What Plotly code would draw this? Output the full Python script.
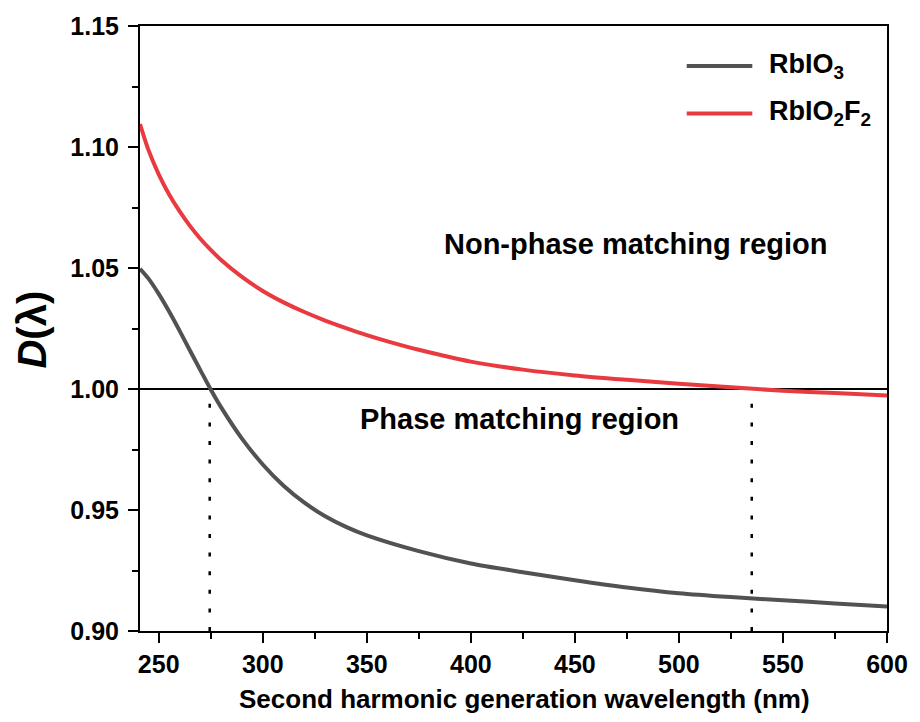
import plotly.graph_objects as go

# Data
wl_rbio3 = [241, 245, 250, 255, 260, 265, 270, 275, 280, 290, 300, 310, 320, 330,
            340, 350, 375, 400, 425, 450, 475, 500, 525, 550, 575, 600]
d_rbio3 = [1.0497, 1.0457, 1.0393, 1.0320, 1.0241, 1.0159, 1.0078, 0.9998, 0.9924,
           0.9795, 0.9688, 0.9600, 0.9530, 0.9474, 0.9430, 0.9395, 0.9330, 0.9279,
           0.9243, 0.9210, 0.9180, 0.9156, 0.9140, 0.9127, 0.9114, 0.9101]

wl_rbio2f2 = [241, 245, 250, 255, 260, 265, 270, 275, 280, 290, 300, 310, 320, 330,
              340, 350, 360, 375, 400, 425, 450, 475, 500, 525, 550, 575, 600]
d_rbio2f2 = [1.1095, 1.0989, 1.0887, 1.0804, 1.0735, 1.0674, 1.0621, 1.0575, 1.0533,
             1.0463, 1.0405, 1.0358, 1.0318, 1.0283, 1.0252, 1.0223, 1.0197, 1.0162,
             1.0113, 1.0080, 1.0056, 1.0038, 1.0022, 1.0007, 0.9993, 0.9983, 0.9973]

cutoff_wl = [274.5, 535]
ref_level = 1.00
x_ticks = [250, 300, 350, 400, 450, 500, 550, 600]
y_ticks = [0.90, 0.95, 1.00, 1.05, 1.10, 1.15]

FONT = "Liberation Sans, Arial, sans-serif"
BLACK_CURVE = "#525252"
RED_CURVE = "#e93a40"

fig = go.Figure()

# reference line D = 1
fig.add_trace(go.Scatter(x=[241, 600], y=[ref_level, ref_level], mode="lines",
                         line=dict(color="black", width=2), showlegend=False,
                         hoverinfo="skip"))

# dotted cutoff lines
for w in cutoff_wl:
    fig.add_trace(go.Scatter(x=[w, w], y=[0.90, ref_level], mode="lines",
                             line=dict(color="black", width=2.5, dash="4px,14.6px"),
                             showlegend=False, hoverinfo="skip"))

fig.add_trace(go.Scatter(x=wl_rbio3, y=d_rbio3, mode="lines", name="RbIO3",
                         line=dict(color=BLACK_CURVE, width=4, shape="spline", smoothing=0.8),
                         showlegend=False))
fig.add_trace(go.Scatter(x=wl_rbio2f2, y=d_rbio2f2, mode="lines", name="RbIO2F2",
                         line=dict(color=RED_CURVE, width=4, shape="spline", smoothing=0.8),
                         showlegend=False))

# manual legend
legend_items = [("RbIO<sub>3</sub>", BLACK_CURVE, 0.9338), ("RbIO<sub>2</sub>F<sub>2</sub>", RED_CURVE, 0.8555)]
for label, col, yy in legend_items:
    fig.add_shape(type="line", xref="paper", yref="paper", x0=0.7319, x1=0.8197,
                  y0=yy, y1=yy, line=dict(color=col, width=4))
    fig.add_annotation(text=f"<b>{label}</b>", xref="paper", yref="paper",
                       x=0.8396, y=yy, xanchor="left", yanchor="middle",
                       showarrow=False, font=dict(family=FONT, size=27, color="black"))

fig.add_annotation(text="<b>Non-phase matching region</b>", x=478.9, y=1.060,
                   xref="x", yref="y", showarrow=False, xanchor="center", yanchor="middle",
                   font=dict(family=FONT, size=29, color="black"))
fig.add_annotation(text="<b>Phase matching region</b>", x=423.2, y=0.9877,
                   xref="x", yref="y", showarrow=False, xanchor="center", yanchor="middle",
                   font=dict(family=FONT, size=29, color="black"))

# y-axis title
fig.add_annotation(text="<b><i>D</i>(λ)</b>", xref="paper", yref="paper",
                   x=-0.144, y=0.499, textangle=-90, showarrow=False,
                   xanchor="center", yanchor="middle",
                   font=dict(family=FONT, size=40, color="black"))

# x-axis title
fig.add_annotation(text="<b>Second harmonic generation wavelength (nm)</b>",
                   xref="paper", yref="paper", x=0.515, y=-0.113,
                   xanchor="center", yanchor="middle", showarrow=False,
                   font=dict(family=FONT, size=26, color="black"))

fig.update_layout(
    width=920, height=722,
    margin=dict(l=139.5, r=26, t=22, b=91),
    paper_bgcolor="white", plot_bgcolor="white",
    font=dict(family=FONT, color="black"),
    xaxis=dict(range=[241, 600], tickvals=x_ticks, ticktext=[str(v) for v in x_ticks],
               showgrid=False, zeroline=False, showline=True, linecolor="black",
               linewidth=2, mirror=True, ticks="outside", ticklen=10, tickwidth=2,
               tickcolor="black",
               minor=dict(ticks="outside", ticklen=6, tickwidth=2, dtick=25,
                          tick0=250, tickcolor="black", showgrid=False),
               tickfont=dict(family=FONT, size=25, color="black", weight="bold")),
    yaxis=dict(range=[0.90, 1.15], tickvals=y_ticks,
               ticktext=[f"{v:.2f}" for v in y_ticks],
               showgrid=False, zeroline=False, showline=True, linecolor="black",
               linewidth=2, mirror=True, ticks="outside", ticklen=10, tickwidth=2,
               tickcolor="black", ticklabelstandoff=4,
               minor=dict(ticks="outside", ticklen=6, tickwidth=2, dtick=0.025,
                          tick0=0.90, tickcolor="black", showgrid=False),
               tickfont=dict(family=FONT, size=25, color="black", weight="bold")),
)

fig.write_html("out.html")
